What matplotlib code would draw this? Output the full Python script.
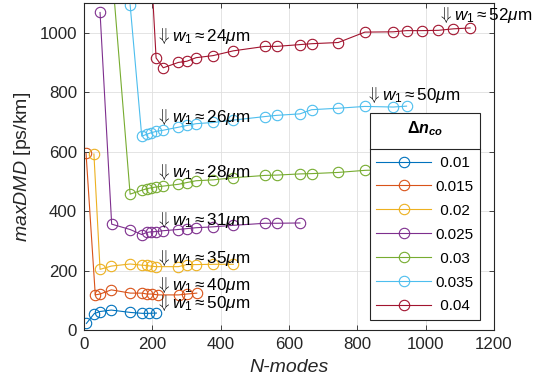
import matplotlib.pyplot as plt
import numpy as np

plt.rcParams['font.family'] = ['Liberation Sans', 'DejaVu Sans']
plt.rcParams['mathtext.fontset'] = 'custom'
plt.rcParams['mathtext.rm'] = 'Liberation Sans'
plt.rcParams['mathtext.it'] = 'Liberation Sans:italic'
plt.rcParams['mathtext.bf'] = 'Liberation Sans:bold'
plt.rcParams['mathtext.bfit'] = 'Liberation Sans:bold:italic'
plt.rcParams['mathtext.fallback'] = 'cm'

# delta n_co values (legend) and matlab default line colors
dn_labels = ['0.01', '0.015', '0.02', '0.025', '0.03', '0.035', '0.04']
colors = ['#0072BD', '#D95319', '#EDB120', '#7E2F8E', '#77AC30', '#4DBEEE', '#A2142F']

# N-modes / maxDMD [ps/km] for every delta n_co
n_010 = [7, 30, 46, 80, 136, 171, 190, 212]
d_010 = [22, 55, 62, 67, 59, 56, 56, 57]

n_015 = [6, 33, 47, 80, 136, 170, 184, 199, 216, 277, 301, 330]
d_015 = [594, 118, 121, 135, 124, 124, 121, 121, 118, 118, 121, 124]

n_020 = [29, 47, 80, 135, 169, 183, 195, 211, 276, 301, 328, 378, 437]
d_020 = [592, 204, 215, 222, 218, 217, 215, 213, 213, 220, 220, 221, 221]

n_025 = [47, 81, 135, 169, 183, 195, 211, 232, 276, 301, 328, 378, 437, 530, 564, 632]
d_025 = [1068, 356, 338, 321, 328, 330, 331, 334, 338, 341, 344, 347, 352, 359, 359, 360]

n_030 = [81, 135, 169, 183, 195, 211, 232, 276, 301, 328, 378, 437, 530, 564, 632, 666,
         744, 822, 905, 944]
d_030 = [1220, 457, 470, 475, 478, 481, 484, 490, 496, 502, 505, 512, 520, 521, 525, 526,
         530, 537, 540, 543]

n_035 = [135, 169, 183, 195, 211, 232, 276, 301, 328, 378, 437, 530, 564, 632, 666, 744,
         822, 905, 944]
d_035 = [1094, 652, 658, 663, 668, 672, 682, 688, 694, 698, 706, 718, 722, 727, 741, 746,
         752, 750, 753]

n_040 = [195, 211, 232, 276, 301, 328, 378, 437, 530, 564, 632, 666, 744, 822, 905, 944,
         988, 1037, 1081, 1130]
d_040 = [1250, 915, 882, 900, 904, 916, 923, 939, 954, 954, 960, 963, 967, 1002, 1003, 1007,
         1007, 1008, 1013, 1016]

n_all = [n_010, n_015, n_020, n_025, n_030, n_035, n_040]
d_all = [d_010, d_015, d_020, d_025, d_030, d_035, d_040]

# core radius notes
w1_labels = ['24', '26', '28', '31', '35', '40', '50', '52', '50']
w1_x = [212, 212, 212, 212, 212, 212, 212, 1036, 826]
w1_y = [971, 701, 516, 354, 224, 135, 73, 1044, 774]

fig = plt.figure(figsize=(5.35, 3.92), dpi=100)
ax = fig.add_axes([0.157, 0.1582, 0.7664, 0.8342])

for n, d, c, lab in zip(n_all, d_all, colors, dn_labels):
    # pad short labels so they look centred in the legend
    if len(lab) == 4:
        lab = ' ' + lab
    ax.plot(n, d, '-o', color=c, lw=0.8, ms=7.5, mfc='none', mew=0.8, label=lab)

for lab, x, y in zip(w1_labels, w1_x, w1_y):
    ax.text(x, y, r'$\Downarrow\mathit{w}_1\approx$' + lab + r'$\mu$m',
            fontsize=12.3, va='baseline', ha='left', color='black', clip_on=False)

ax.set_xlim(0, 1200)
ax.set_ylim(0, 1100)
ax.set_xticks(np.arange(0, 1201, 200))
ax.set_yticks(np.arange(0, 1001, 200))
ax.grid(True, color='#dfdfdf', lw=0.6)
ax.set_axisbelow(True)
ax.tick_params(direction='in', top=True, right=True, length=3.5, width=0.6,
               colors='#262626', labelsize=12.2, pad=5)
for s in ax.spines.values():
    s.set_color('#262626')
    s.set_linewidth(0.8)

ax.set_xlabel('N-modes', fontsize=14, fontstyle='italic', color='#262626', labelpad=5)
ax.set_ylabel(r'$\mathit{maxDMD}$ [ps/km]', fontsize=14, color='#262626', labelpad=5)

leg = ax.legend(title=r'$\mathbf{\Delta}\mathbfit{n}_{\mathbfit{co}}$',
                loc='upper left', bbox_to_anchor=(0.6976, 0.6636), borderaxespad=0,
                fontsize=11, title_fontsize=11.5, handlelength=3.6, handletextpad=0.3,
                borderpad=0.4, labelspacing=0.65, fancybox=False, framealpha=1,
                edgecolor='#262626')
leg.get_frame().set_linewidth(0.8)
# more room between the title and the entries
leg._legend_box.sep = 13

# separator under the legend title
fig.canvas.draw()
bb = leg.get_window_extent().transformed(ax.transAxes.inverted())
ax.plot([bb.x0, bb.x1], [0.5535, 0.5535], transform=ax.transAxes, color='#262626',
        lw=0.8, zorder=6, clip_on=False)

fig.savefig('out.png', dpi=100)
